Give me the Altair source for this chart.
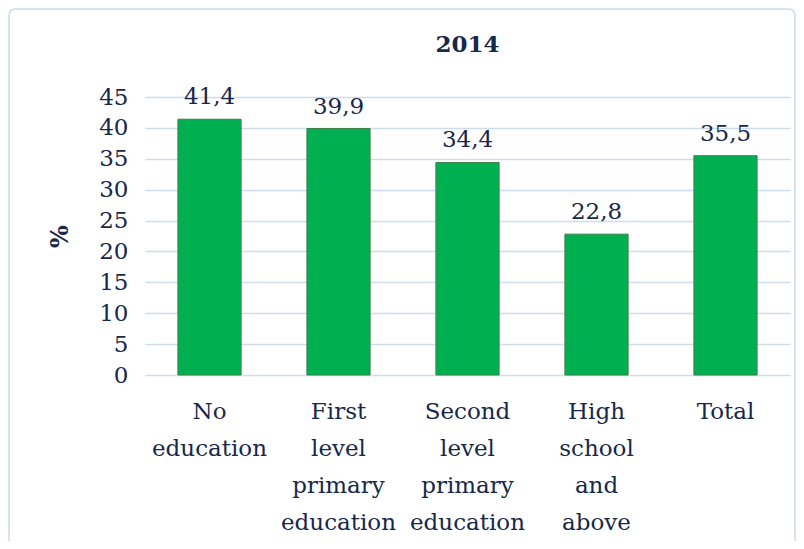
import altair as alt
import pandas as pd

categories = ["No\neducation", "First\nlevel\nprimary\neducation", "Second\nlevel\nprimary\neducation", "High\nschool\nand\nabove", "Total"]
values = [41.4, 39.9, 34.4, 22.8, 35.5]
labels = [f"{v:.1f}".replace(".", ",") for v in values]
yticks = [0, 5, 10, 15, 20, 25, 30, 35, 40, 45]

df = pd.DataFrame({"cat": categories, "val": values, "lab": labels})

FONT = "DejaVu Serif"
TXT = "#17284a"
W, H = 645, 278
FS = 23

x = alt.X("cat:N", sort=categories, title=None,
          scale=alt.Scale(paddingInner=0.51, paddingOuter=0.255),
          axis=alt.Axis(labelExpr="split(datum.label, '\\n')", labelAngle=0,
                        domain=False, ticks=False, labelFont=FONT, labelFontSize=FS,
                        labelColor=TXT, labelLineHeight=37, labelPadding=25,
                        labelBaseline="top"))
y = alt.Y("val:Q", title="%", scale=alt.Scale(domain=[0, 45]),
          axis=alt.Axis(values=yticks, domain=False, ticks=False, labelOverlap=False,
                        labelFont=FONT, labelFontSize=FS, labelColor=TXT, labelPadding=17,
                        grid=True, gridColor="#cddcee", gridWidth=1.5,
                        titleFont=FONT, titleFontSize=24, titleFontWeight="bold",
                        titleColor=TXT, titlePadding=26))

border = alt.Chart(pd.DataFrame({"a": [0]})).mark_rect(
    fill=None, fillOpacity=0, stroke="#c8daee", strokeWidth=1.5, cornerRadius=6
).encode(x=alt.value(-136), x2=alt.value(W + 5), y=alt.value(-88), y2=alt.value(H + 200))

title = alt.Chart(pd.DataFrame({"t": ["2014"]})).mark_text(
    font=FONT, fontSize=23, fontWeight="bold", color=TXT, baseline="middle"
).encode(x=alt.value(W / 2), y=alt.value(-52), text="t:N")

bars = alt.Chart(df).mark_bar(color="#00b050", stroke="#3f7f4a", strokeWidth=1).encode(x=x, y=y)
text = alt.Chart(df).mark_text(dy=-10, baseline="bottom", font=FONT, fontSize=FS, color=TXT).encode(
    x=x, y=y, text="lab:N")

chart = alt.layer(border, bars, text, title).properties(
    width=W, height=H,
    autosize=alt.AutoSizeParams(type="none"),
    padding={"left": 137, "top": 89, "right": 6, "bottom": 166},
).configure_view(stroke=None)

chart.save("out.html", embed_options={"renderer": "svg", "actions": False})
